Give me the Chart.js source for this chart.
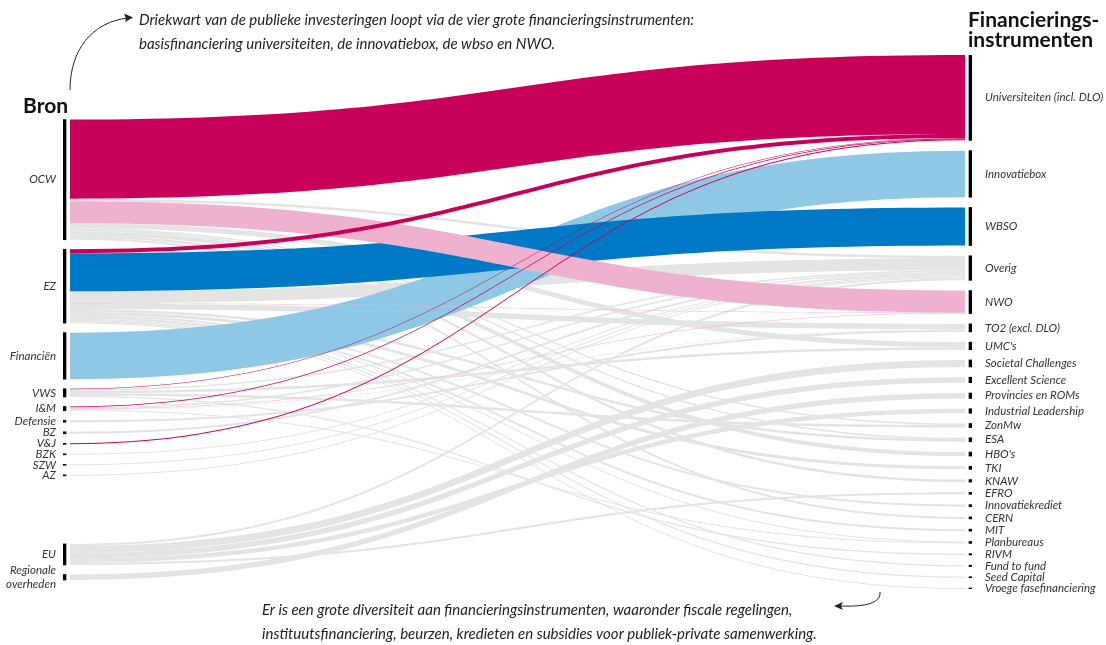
<!DOCTYPE html>
<html>
<head>
<meta charset="utf-8">
<script src="https://cdn.jsdelivr.net/npm/chart.js@4.4.1/dist/chart.umd.min.js"></script>
<style>
html,body{margin:0;padding:0;background:#fff;}
#wrap{width:1106px;height:645px;position:relative;}
</style>
</head>
<body>
<div id="wrap"><canvas id="c"></canvas></div>
<script>
// ---------- DATA (values in € mln) ----------
const sources = ['OCW','EZ','Financiën','VWS','I&M','Defensie','BZ','V&J','BZK','SZW','AZ','EU','Regionale overheden'];
const targets = ['Universiteiten (incl. DLO)','Innovatiebox','WBSO','Overig','NWO','TO2 (excl. DLO)',"UMC's",
  'Societal Challenges','Excellent Science','Provincies en ROMs','Industrial Leadership','ZonMw','ESA',"HBO's",
  'TKI','KNAW','EFRO','Innovatiekrediet','CERN','MIT','Planbureaus','RIVM','Fund to fund','Seed Capital',
  'Vroege fasefinanciering'];

const flowFrom = [
  'OCW','OCW','OCW','OCW','OCW','OCW','OCW','OCW','OCW',
  'EZ','EZ','EZ','EZ','EZ','EZ','EZ','EZ','EZ','EZ','EZ','EZ','EZ',
  'Financiën',
  'VWS','VWS','VWS','VWS','VWS',
  'I&M','I&M','I&M','I&M','I&M',
  'Defensie','BZ','V&J','BZK','SZW','AZ',
  'EU','EU','EU','EU','EU',
  'Regionale overheden'];
const flowTo = [
  'Universiteiten (incl. DLO)','Overig','NWO',"UMC's",'ZonMw','ESA',"HBO's",'KNAW','CERN',
  'Universiteiten (incl. DLO)','WBSO','Overig','NWO','TO2 (excl. DLO)','ESA','TKI','Innovatiekrediet','MIT','Planbureaus','Fund to fund','Seed Capital','Vroege fasefinanciering',
  'Innovatiebox',
  'Universiteiten (incl. DLO)','Overig',"UMC's",'ZonMw','RIVM',
  'Universiteiten (incl. DLO)','Overig','NWO','TO2 (excl. DLO)','Planbureaus',
  'TO2 (excl. DLO)','Overig','Universiteiten (incl. DLO)','Overig','Overig','Overig',
  'Overig','Societal Challenges','Excellent Science','Industrial Leadership','EFRO',
  'Provincies en ROMs'];
const flowValue = [
  1580, 50, 440, 100, 30, 30, 80, 50, 40,
  80, 760, 240, 10, 110, 50, 60, 40, 40, 20, 25, 20, 20,
  930,
  10, 30, 50, 50, 25,
  15, 30, 10, 10, 20,
  40, 40, 20, 20, 20, 20,
  40, 140, 110, 90, 40,
  110];

// ---------- LAYOUT & STYLE ----------
const LAYOUT = { leftStart: 1290, leftGap: 190, rightGap: 205, leftBreakAt: 'EU', leftBreakStart: 9765 };
const COLORS = {
  'Universiteiten (incl. DLO)': '#C8005A',
  'Innovatiebox': '#8FC8E5',
  'WBSO': '#0079C6',
  'NWO': '#EEB1CE',
  other: '#E4E4E4'
};
const DRAW_RANK = { other: 0, 'Innovatiebox': 1, 'WBSO': 2, 'NWO': 3, 'Universiteiten (incl. DLO)': 4 };

// node totals
const srcTotal = sources.map(s => flowValue.reduce((a, v, k) => a + (flowFrom[k] === s ? v : 0), 0));
const tgtTotal = targets.map(t => flowValue.reduce((a, v, k) => a + (flowTo[k] === t ? v : 0), 0));

// node positions (value units along y)
const srcY = []; let p = LAYOUT.leftStart;
sources.forEach((s, i) => {
  if (s === LAYOUT.leftBreakAt) p = LAYOUT.leftBreakStart;
  srcY.push([p, p + srcTotal[i]]); p += srcTotal[i] + LAYOUT.leftGap;
});
const tgtY = []; let q = 0;
targets.forEach((t, i) => { tgtY.push([q, q + tgtTotal[i]]); q += tgtTotal[i] + LAYOUT.rightGap; });
const yMax = Math.max(q - LAYOUT.rightGap, p - LAYOUT.leftGap);

// flows with stacked offsets
const flows = flowValue.map((v, k) => ({ si: sources.indexOf(flowFrom[k]), ti: targets.indexOf(flowTo[k]), v }));
sources.forEach((s, i) => {
  let o = srcY[i][0];
  flows.filter(f => f.si === i).sort((a, b) => a.ti - b.ti).forEach(f => { f.sy0 = o; o += f.v; f.sy1 = o; });
});
targets.forEach((t, j) => {
  let o = tgtY[j][0];
  flows.filter(f => f.ti === j).sort((a, b) => a.si - b.si).forEach(f => { f.ty0 = o; o += f.v; f.ty1 = o; });
});
flows.forEach(f => {
  const name = targets[f.ti];
  f.color = COLORS[name] || COLORS.other;
  f.rank = (name in DRAW_RANK) ? DRAW_RANK[name] : DRAW_RANK.other;
});
const drawOrder = flows.slice().sort((a, b) => a.rank - b.rank || b.v - a.v);

const srcCenters = srcY.map(r => (r[0] + r[1]) / 2);
const tgtCenters = tgtY.map(r => (r[0] + r[1]) / 2);
const srcLabels = sources.map(s => s === 'Regionale overheden' ? ['Regionale', 'overheden'] : s);

const nodeData = srcY.map(r => ({ x: 0, y: r })).concat(tgtY.map(r => ({ x: 1, y: r })));

const FLOW_INSET = 7; // px between node bar centre and flow end
const LABEL_FONT = { family: 'Lato', size: 11.5, style: 'italic' };

const sankeyPlugin = {
  id: 'sankeyFlows',
  beforeDatasetsDraw(chart) {
    const { ctx, scales: { x, y } } = chart;
    const xa = x.getPixelForValue(0) + FLOW_INSET;
    const xb = x.getPixelForValue(1) - FLOW_INSET;
    const xm = (xa + xb) / 2;
    ctx.save();
    drawOrder.forEach(f => {
      const s0 = y.getPixelForValue(f.sy0), s1 = y.getPixelForValue(f.sy1);
      const t0 = y.getPixelForValue(f.ty0), t1 = y.getPixelForValue(f.ty1);
      ctx.beginPath();
      ctx.moveTo(xa, s0);
      ctx.bezierCurveTo(xm, s0, xm, t0, xb, t0);
      ctx.lineTo(xb, t1);
      ctx.bezierCurveTo(xm, t1, xm, s1, xa, s1);
      ctx.closePath();
      ctx.fillStyle = f.color;
      ctx.fill();
    });
    ctx.restore();
  },
  afterDraw(chart) {
    const ctx = chart.ctx;
    ctx.save();
    ctx.fillStyle = '#111';
    ctx.textBaseline = 'alphabetic';
    ctx.textAlign = 'left';
    ctx.font = 'bold 21px Lato';
    ctx.fillText('Bron', 23, 113);
    ctx.fillText('Financierings-', 968, 27);
    ctx.fillText('instrumenten', 968, 47);
    ctx.fillStyle = '#222';
    ctx.font = 'italic 15px Lato';
    ctx.fillText('Driekwart van de publieke investeringen loopt via de vier grote financieringsinstrumenten:', 139, 25);
    ctx.fillText('basisfinanciering universiteiten, de innovatiebox, de wbso en NWO.', 139, 49);
    ctx.fillText('Er is een grote diversiteit aan financieringsinstrumenten, waaronder fiscale regelingen,', 262, 615);
    ctx.fillText('instituutsfinanciering, beurzen, kredieten en subsidies voor publiek-private samenwerking.', 262, 639);
    // arrows
    ctx.strokeStyle = '#222'; ctx.lineWidth = 1;
    ctx.beginPath(); ctx.moveTo(70, 90); ctx.bezierCurveTo(70, 50, 92, 22, 128, 18); ctx.stroke();
    ctx.beginPath(); ctx.moveTo(133, 17.5); ctx.lineTo(124, 13.5); ctx.lineTo(126, 18.5); ctx.lineTo(125, 22); ctx.closePath(); ctx.fill();
    ctx.beginPath(); ctx.moveTo(880, 592); ctx.bezierCurveTo(881, 603, 866, 607, 840, 606); ctx.stroke();
    ctx.beginPath(); ctx.moveTo(834, 606); ctx.lineTo(843, 602); ctx.lineTo(841, 606); ctx.lineTo(843, 610); ctx.closePath(); ctx.fill();
    ctx.restore();
  }
};

new Chart(document.getElementById('c'), {
  type: 'bar',
  data: {
    datasets: [{
      data: nodeData,
      backgroundColor: '#000',
      barThickness: 6,
      grouped: false,
      yAxisID: 'y'
    }]
  },
  options: {
    responsive: true,
    maintainAspectRatio: false,
    animation: false,
    layout: { padding: { top: 55, bottom: 56, left: 0, right: 0 } },
    plugins: { legend: { display: false }, tooltip: { enabled: false } },
    scales: {
      x: { type: 'linear', min: 0, max: 1, offset: false, display: false },
      y: {
        type: 'linear', position: 'left', reverse: true, min: 0, max: yMax,
        grid: { display: false, drawTicks: false }, border: { display: false },
        afterBuildTicks: s => { s.ticks = srcCenters.map(v => ({ value: v })); },
        afterFit: s => { s.width = 63; },
        ticks: { autoSkip: false, padding: 7, color: '#333', font: LABEL_FONT,
          callback: (v, i) => srcLabels[i] }
      },
      y2: {
        type: 'linear', position: 'right', reverse: true, min: 0, max: yMax,
        grid: { display: false, drawTicks: false }, border: { display: false },
        afterBuildTicks: s => { s.ticks = tgtCenters.map(v => ({ value: v })); },
        afterFit: s => { s.width = 134; },
        ticks: { autoSkip: false, padding: 13, color: '#333', font: LABEL_FONT,
          callback: (v, i) => targets[i] }
      }
    }
  },
  plugins: [sankeyPlugin]
});
</script>
</body>
</html>
